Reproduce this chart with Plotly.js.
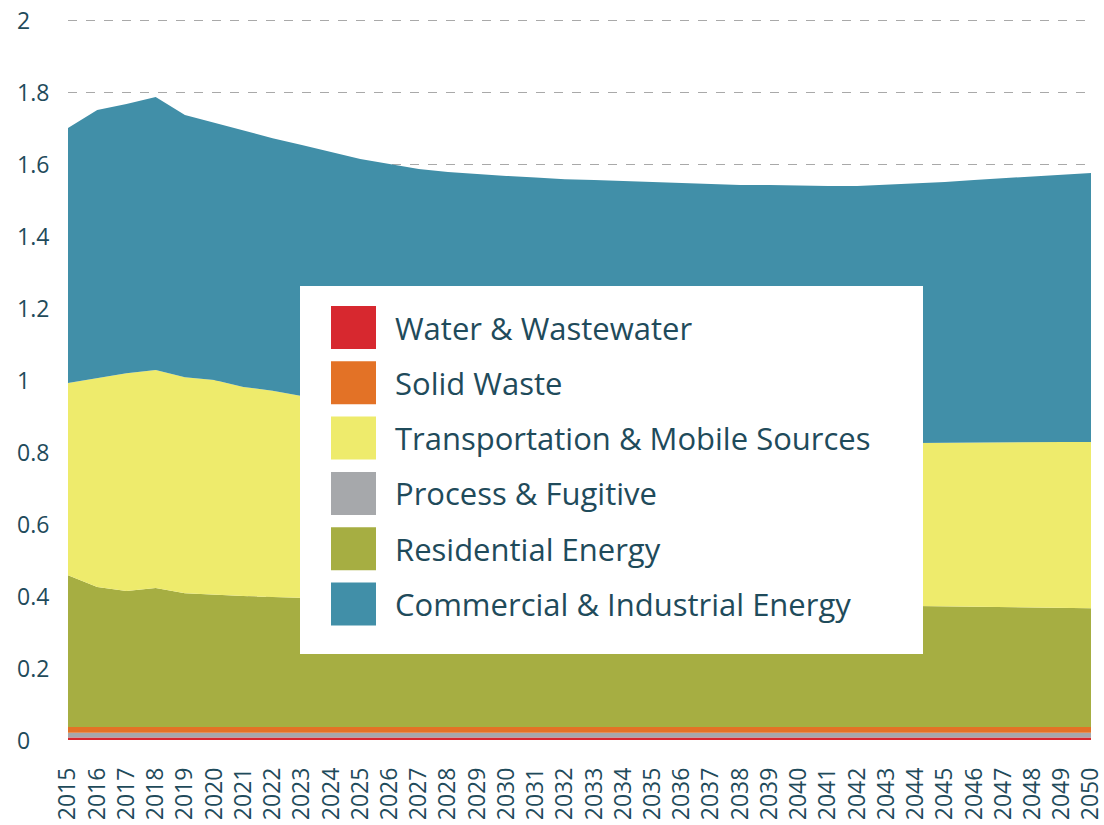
<!DOCTYPE html>
<html>
<head>
<meta charset="utf-8">
<script src="https://cdn.plot.ly/plotly-3.0.1.min.js"></script>
<style>
  html, body { margin: 0; padding: 0; background: #ffffff; }
  #chart { width: 1104px; height: 825px; }
</style>
</head>
<body>
<div id="chart"></div>
<script>
// ---- Data ----
const years = [2015,2016,2017,2018,2019,2020,2021,2022,2023,2024,2025,2026,2027,2028,2029,2030,2031,2032,2033,2034,2035,2036,2037,2038,2039,2040,2041,2042,2043,2044,2045,2046,2047,2048,2049,2050];

const waterWastewater = [0.007,0.007,0.007,0.007,0.007,0.007,0.007,0.007,0.007,0.007,0.007,0.007,0.007,0.007,0.007,0.007,0.007,0.007,0.007,0.007,0.007,0.007,0.007,0.007,0.007,0.007,0.007,0.007,0.007,0.007,0.007,0.007,0.007,0.007,0.007,0.007];
const processFugitive = [0.013,0.013,0.013,0.013,0.013,0.013,0.013,0.013,0.013,0.013,0.013,0.013,0.013,0.013,0.013,0.013,0.013,0.013,0.013,0.013,0.013,0.013,0.013,0.013,0.013,0.013,0.013,0.013,0.013,0.013,0.013,0.013,0.013,0.013,0.013,0.013];
const solidWaste = [0.016,0.016,0.016,0.016,0.016,0.016,0.016,0.016,0.016,0.016,0.016,0.016,0.016,0.016,0.016,0.016,0.016,0.016,0.016,0.016,0.016,0.016,0.016,0.016,0.016,0.016,0.016,0.016,0.016,0.016,0.016,0.016,0.016,0.016,0.016,0.016];
const residentialEnergy = [0.422,0.389,0.378,0.386,0.372,0.367,0.364,0.361,0.358,0.356,0.354,0.352,0.350,0.349,0.348,0.347,0.346,0.345,0.344,0.343,0.342,0.341,0.340,0.339,0.338,0.338,0.337,0.337,0.336,0.336,0.335,0.333,0.333,0.332,0.331,0.330];
const transportation = [0.534,0.581,0.605,0.606,0.600,0.597,0.581,0.573,0.561,0.548,0.535,0.522,0.509,0.497,0.486,0.477,0.470,0.465,0.461,0.458,0.456,0.454,0.453,0.453,0.453,0.452,0.452,0.452,0.453,0.453,0.455,0.457,0.458,0.459,0.461,0.462];
const commercialIndustrial = [0.708,0.744,0.748,0.758,0.728,0.714,0.711,0.702,0.698,0.693,0.689,0.690,0.691,0.696,0.702,0.707,0.711,0.712,0.715,0.716,0.716,0.716,0.714,0.714,0.715,0.714,0.714,0.714,0.717,0.721,0.724,0.730,0.734,0.738,0.741,0.747];

const yTickVals = [0,0.2,0.4,0.6,0.8,1,1.2,1.4,1.6,1.8,2];
const yTickText = ["0","0.2","0.4","0.6","0.8","1","1.2","1.4","1.6","1.8","2"];

// stacking order (bottom to top)
const stackNames = ["Water & Wastewater","Process & Fugitive","Solid Waste","Residential Energy","Transportation & Mobile Sources","Commercial & Industrial Energy"];
const stackValues = [waterWastewater, processFugitive, solidWaste, residentialEnergy, transportation, commercialIndustrial];
const stackColors = ["#d7282f","#a6a8ab","#e37226","#a6ae42","#eeeb6c","#418fa8"];

// legend order as shown in the reference
const legendNames = ["Water & Wastewater","Solid Waste","Transportation & Mobile Sources","Process & Fugitive","Residential Energy","Commercial & Industrial Energy"];

const textColor = "#1f4b5b";
const fontFamily = "'Open Sans', 'Noto Sans', sans-serif";

const traces = stackNames.map((name, i) => ({
  type: "scatter",
  mode: "lines",
  name: name,
  x: years,
  y: stackValues[i],
  stackgroup: "emissions",
  line: { width: 0, color: stackColors[i] },
  fillcolor: stackColors[i],
  showlegend: false,
  hoverinfo: "x+y+name"
}));

// Custom legend (box + swatches + labels) in paper coordinates
const W = 1104, H = 825;
const mL = 68, mR = 13, mT = 19, mB = 85;
const pw = W - mL - mR, ph = H - mT - mB;
const px = (x) => (x - mL) / pw;           // pixel -> paper x
const py = (y) => 1 - (y - mT) / ph;        // pixel -> paper y

const shapes = [];
const annotations = [];
shapes.push({
  type: "rect", xref: "paper", yref: "paper",
  x0: px(300), x1: px(923), y0: py(654), y1: py(286),
  fillcolor: "#ffffff", line: { width: 0 }, layer: "above"
});
legendNames.forEach((name, k) => {
  const color = stackColors[stackNames.indexOf(name)];
  const top = 306 + k * 55.3;
  shapes.push({
    type: "rect", xref: "paper", yref: "paper",
    x0: px(331), x1: px(376), y0: py(top + 43), y1: py(top),
    fillcolor: color, line: { width: 0 }, layer: "above"
  });
  annotations.push({
    xref: "paper", yref: "paper",
    x: px(393), y: py(top + 21.5),
    xanchor: "left", yanchor: "middle",
    text: name, showarrow: false,
    font: { family: fontFamily, size: 31, color: textColor }
  });
});

// Left-aligned y tick labels, placed on the y scale
yTickVals.forEach((v, k) => {
  annotations.push({
    xref: "paper", yref: "y",
    x: px(15), y: v,
    xanchor: "left", yanchor: "middle",
    text: yTickText[k], showarrow: false,
    font: { family: fontFamily, size: 23, color: textColor }
  });
});

const layout = {
  width: W, height: H,
  margin: { l: mL, r: mR, t: mT, b: mB },
  paper_bgcolor: "#ffffff",
  plot_bgcolor: "#ffffff",
  showlegend: false,
  font: { family: fontFamily, color: textColor },
  xaxis: {
    range: [2015, 2050],
    tickvals: years,
    ticktext: years.map(String),
    tickangle: -90,
    tickfont: { family: fontFamily, size: 23, color: textColor },
    showgrid: false,
    zeroline: false,
    showline: false,
    ticks: "",
    ticklabelstandoff: 22,
    ticklabeloverflow: "allow",
    fixedrange: true
  },
  yaxis: {
    range: [0, 2.003],
    tickvals: yTickVals,
    showticklabels: false,
    showgrid: true,
    gridcolor: "#a9a9a9",
    gridwidth: 1,
    griddash: "dash",
    zeroline: false,
    showline: false,
    ticks: "",
    fixedrange: true
  },
  shapes: shapes,
  annotations: annotations
};

Plotly.newPlot("chart", traces, layout, { displayModeBar: false, staticPlot: true });
</script>
</body>
</html>
